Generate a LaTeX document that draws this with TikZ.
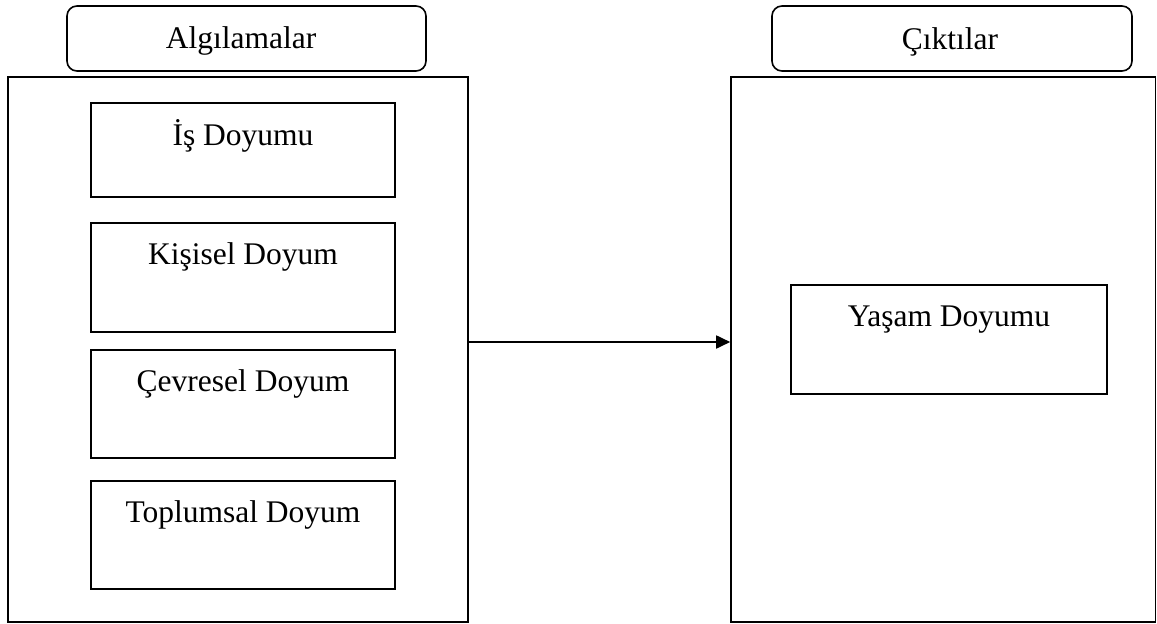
\documentclass[tikz,border=0pt]{standalone}
\usepackage{fontspec}
\setmainfont{Liberation Serif}
\usetikzlibrary{arrows.meta}
\begin{document}
\begin{tikzpicture}[x=1pt,y=-1pt,
  frame/.style={draw=black,line width=1.6pt,rectangle,inner sep=0pt},
  header/.style={frame,rounded corners=10pt},
  lbl/.style={anchor=base,inner sep=0pt,font=\fontsize{31.5}{36}\selectfont},
  conn/.style={line width=1.8pt,-{Triangle[length=14pt,width=13pt]}}]
\useasboundingbox (0,0) rectangle (1157,624);
% headers
\node[header,minimum width=359pt,minimum height=65pt] (h1) at (246.5,38.5) {};
\node[header,minimum width=360pt,minimum height=65pt] (h2) at (952,38.5) {};
\node[lbl] (h1t) at (241,48) {Algılamalar};
\node[lbl] (h2t) at (950,49) {Çıktılar};
% big boxes
\node[frame,minimum width=460pt,minimum height=545pt] (L) at (238,349.5) {};
\node[frame,minimum width=424.5pt,minimum height=545pt] (R) at (943.25,349.5) {};
% inner boxes
\node[frame,minimum width=304pt,minimum height=94pt] (b1) at (243,150) {};
\node[frame,minimum width=304pt,minimum height=109pt] (b2) at (243,277.5) {};
\node[frame,minimum width=304pt,minimum height=108pt] (b3) at (243,404) {};
\node[frame,minimum width=304pt,minimum height=108pt] (b4) at (243,535) {};
\node[frame,minimum width=316pt,minimum height=109pt] (y1) at (949,339.5) {};
\node[lbl] (t1) at (243,145) {İş Doyumu};
\node[lbl] (t2) at (243,264) {Kişisel Doyum};
\node[lbl] (t3) at (243,391) {Çevresel Doyum};
\node[lbl] (t4) at (243,522) {Toplumsal Doyum};
\node[lbl] (ty) at (949,326) {Yaşam Doyumu};
% arrow
\coordinate (ay) at (0,342);
\draw[conn] (L.east |- ay) -- (R.west |- ay);
\end{tikzpicture}
\end{document}
